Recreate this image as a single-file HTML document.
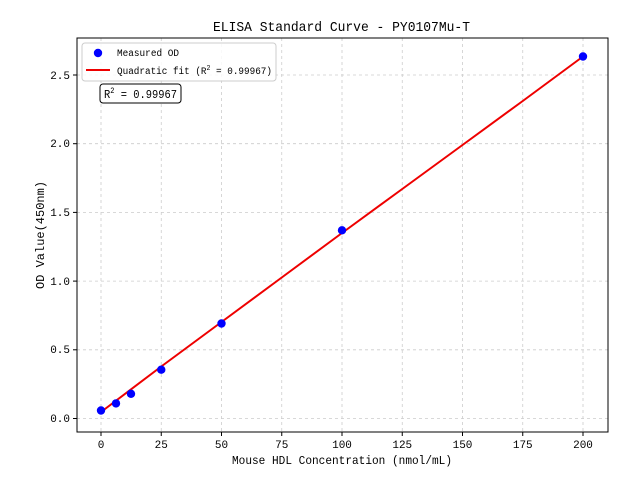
<!DOCTYPE html>
<html><head><meta charset="utf-8"><style>body{margin:0;background:#fff}svg{display:block}text{font-family:"WenQuanYi Zen Hei","Liberation Mono",monospace;fill:#000}</style></head><body>
<svg width="640" height="480" xmlns="http://www.w3.org/2000/svg">
<rect width="640" height="480" fill="#fff"/>
<g stroke="#ccc" stroke-dasharray="3,3" stroke-width="0.8">
<line x1="101" y1="38" x2="101" y2="432"/><line x1="161.25" y1="38" x2="161.25" y2="432"/><line x1="221.5" y1="38" x2="221.5" y2="432"/><line x1="281.75" y1="38" x2="281.75" y2="432"/><line x1="342" y1="38" x2="342" y2="432"/><line x1="402.25" y1="38" x2="402.25" y2="432"/><line x1="462.5" y1="38" x2="462.5" y2="432"/><line x1="522.75" y1="38" x2="522.75" y2="432"/><line x1="583" y1="38" x2="583" y2="432"/>
<line x1="77" y1="418.5" x2="608" y2="418.5"/><line x1="77" y1="349.8" x2="608" y2="349.8"/><line x1="77" y1="281.1" x2="608" y2="281.1"/><line x1="77" y1="212.4" x2="608" y2="212.4"/><line x1="77" y1="143.7" x2="608" y2="143.7"/><line x1="77" y1="75" x2="608" y2="75"/>
</g>
<polyline fill="none" stroke="#e00" stroke-width="2" points="101,412 161.25,366.5 221.5,322 281.75,277.5 342,233 402.25,189 462.5,145 522.75,101 583,56.5"/>
<g fill="#00f">
<circle cx="101" cy="410.5" r="4.2"/><circle cx="116" cy="403.4" r="4.2"/><circle cx="131" cy="393.8" r="4.2"/><circle cx="161.25" cy="369.7" r="4.2"/><circle cx="221.5" cy="323.5" r="4.2"/><circle cx="342" cy="230.3" r="4.2"/><circle cx="583" cy="56.5" r="4.2"/>
</g>
<rect x="77" y="38" width="531" height="394" fill="none" stroke="#000" stroke-width="1"/>
<g stroke="#000"><line x1="101" y1="432" x2="101" y2="436"/><line x1="161.25" y1="432" x2="161.25" y2="436"/><line x1="221.5" y1="432" x2="221.5" y2="436"/><line x1="281.75" y1="432" x2="281.75" y2="436"/><line x1="342" y1="432" x2="342" y2="436"/><line x1="402.25" y1="432" x2="402.25" y2="436"/><line x1="462.5" y1="432" x2="462.5" y2="436"/><line x1="522.75" y1="432" x2="522.75" y2="436"/><line x1="583" y1="432" x2="583" y2="436"/>
<line x1="73" y1="418.5" x2="77" y2="418.5"/><line x1="73" y1="349.8" x2="77" y2="349.8"/><line x1="73" y1="281.1" x2="77" y2="281.1"/><line x1="73" y1="212.4" x2="77" y2="212.4"/><line x1="73" y1="143.7" x2="77" y2="143.7"/><line x1="73" y1="75" x2="77" y2="75"/></g>
<g font-size="11" text-anchor="middle"><text x="101" y="448">0</text><text x="161.25" y="448">25</text><text x="221.5" y="448">50</text><text x="281.75" y="448">75</text><text x="342" y="448">100</text><text x="402.25" y="448">125</text><text x="462.5" y="448">150</text><text x="522.75" y="448">175</text><text x="583" y="448">200</text></g>
<g font-size="11" text-anchor="end"><text x="70" y="422">0.0</text><text x="70" y="353">0.5</text><text x="70" y="285">1.0</text><text x="70" y="216">1.5</text><text x="70" y="147">2.0</text><text x="70" y="79">2.5</text></g>
<text x="232" y="464" font-size="12" textLength="220" lengthAdjust="spacingAndGlyphs">Mouse HDL Concentration (nmol/mL)</text>
<text x="0" y="0" font-size="12" text-anchor="middle" transform="translate(44,235) rotate(-90)">OD Value(450nm)</text>
<text x="213" y="31" font-size="14" textLength="257" lengthAdjust="spacingAndGlyphs">ELISA Standard Curve - PY0107Mu-T</text>
<rect x="82" y="43" width="194" height="38" rx="3" fill="#fff" fill-opacity="0.85" stroke="#ccc"/>
<circle cx="98" cy="53" r="4.2" fill="#00f"/>
<text x="117" y="56" font-size="10" textLength="62" lengthAdjust="spacingAndGlyphs">Measured OD</text>
<line x1="86" y1="70" x2="110" y2="70" stroke="#e00" stroke-width="2"/>
<text x="117" y="74" font-size="10" textLength="155" lengthAdjust="spacingAndGlyphs">Quadratic fit (R<tspan dy="-4" font-size="7">2</tspan><tspan dy="4"> = 0.99967)</tspan></text>
<rect x="100" y="84" width="81" height="19" rx="3" fill="#fff" stroke="#000"/>
<text x="104" y="98" font-size="12" textLength="73" lengthAdjust="spacingAndGlyphs">R<tspan dy="-5" font-size="8">2</tspan><tspan dy="5"> = 0.99967</tspan></text>
</svg>
</body></html>
